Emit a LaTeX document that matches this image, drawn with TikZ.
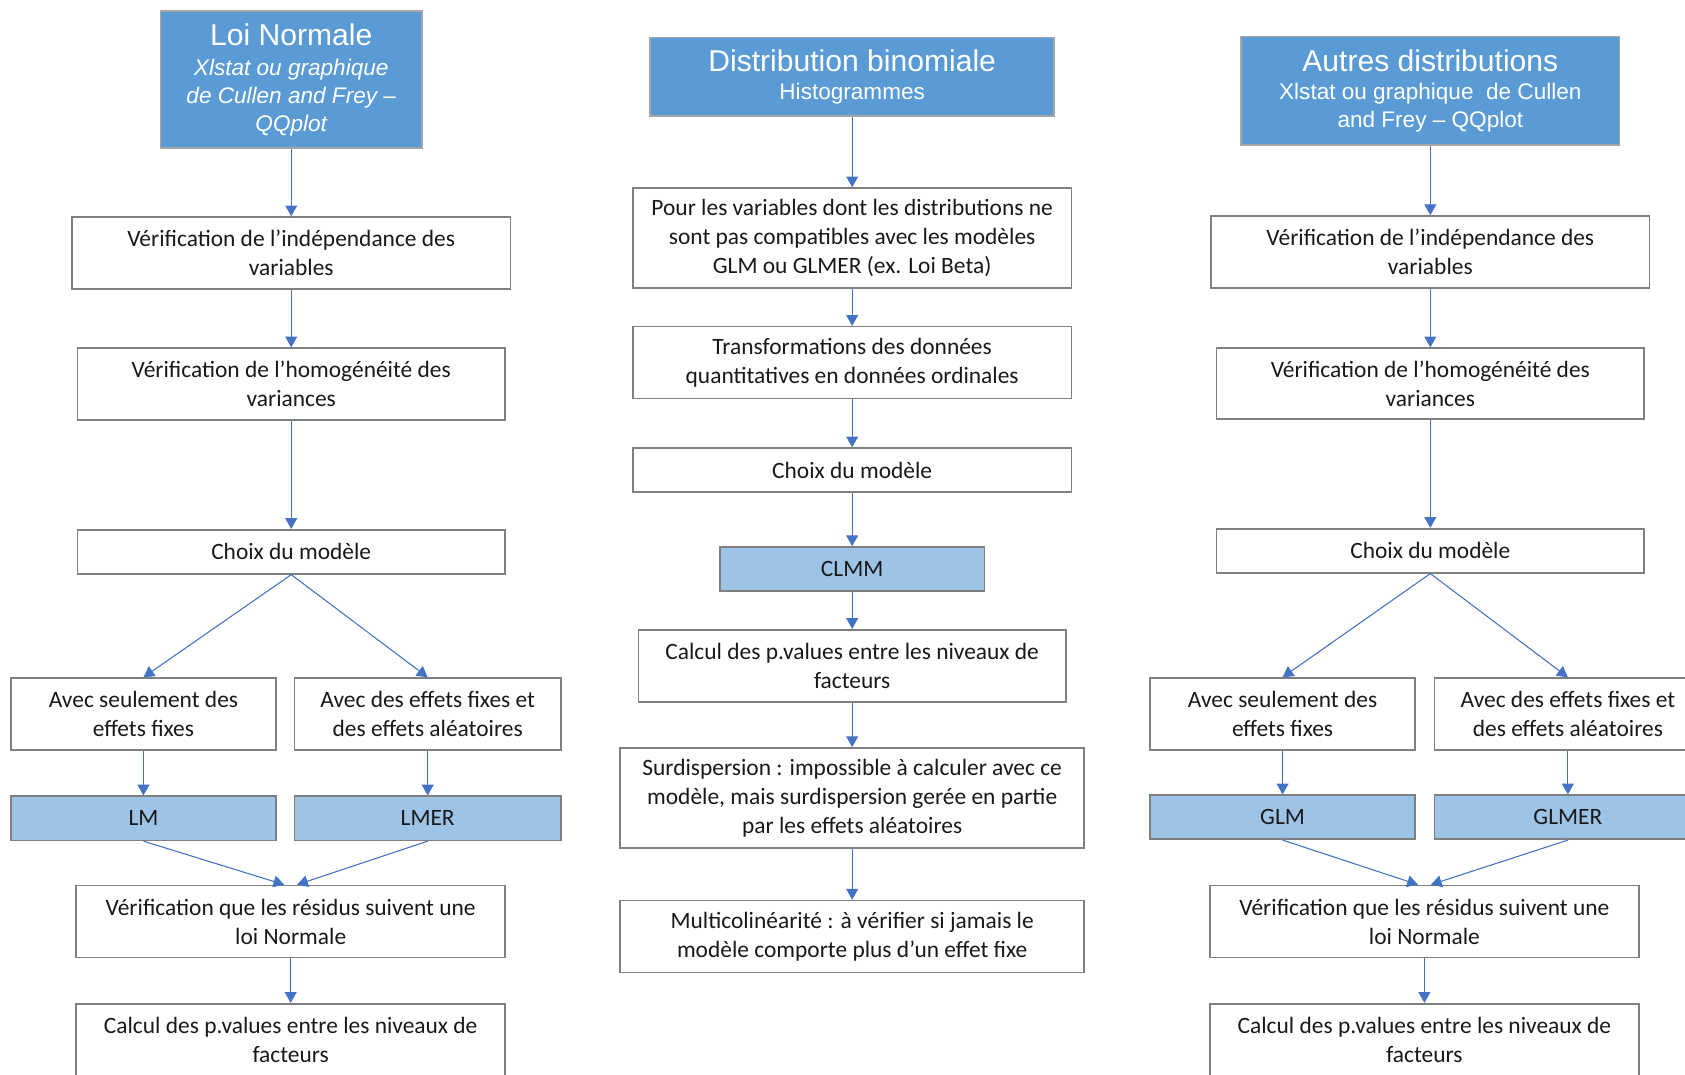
\documentclass[tikz,border=0pt]{standalone}
\usepackage{fontspec}
\setmainfont{Carlito}
\newfontfamily\arialfont{Liberation Sans}
\usetikzlibrary{arrows.meta}
\definecolor{titre}{HTML}{5B9BD5}
\definecolor{modele}{HTML}{9DC3E6}
\definecolor{fleche}{HTML}{4472C4}
\definecolor{bord}{HTML}{7F7F7F}

\begin{document}
\begin{tikzpicture}[x=1pt,y=-1pt,
	box/.style={draw=bord, line width=1.5pt, inner sep=0pt, align=center,
		text=black!90, font=\fontsize{21.8}{27}\selectfont},
	titlebox/.style={box, draw=black!35, fill=titre, text=white,
		font=\arialfont\fontsize{21}{26}\selectfont},
	modbox/.style={box, fill=modele, minimum height=41},
	fl/.style={draw=fleche, line width=1pt, -{Triangle[width=11pt,length=10pt]}}]
	\clip (0,0) rectangle (1568,1000);
	\fill[white] (0,0) rectangle (1568,1000);
	% loi normale
	\node[titlebox, minimum width=243, minimum height=128] (n0) at (271,74)
		{{\fontsize{28}{30}\selectfont Loi Normale}\\[2pt]\itshape Xlstat ou graphique\\\itshape de Cullen and Frey –\\\itshape QQplot};
	\node[box, minimum width=408, minimum height=67] (n1) at (271,235.5) {Vérification de l’indépendance des\\variables};
	\node[box, minimum width=398, minimum height=67] (n2) at (271,357.5) {Vérification de l’homogénéité des\\variances};
	\node[box, minimum width=398, minimum height=41] (n3) at (271,513.5) {Choix du modèle};
	\node[box, minimum width=247, minimum height=67] (n4) at (133.5,664.5) {Avec seulement des\\effets fixes};
	\node[box, minimum width=248, minimum height=67] (n5) at (398,664.5) {Avec des effets fixes et\\des effets aléatoires};
	\node[modbox, minimum width=247] (lm) at (133.5,761.5) {LM};
	\node[modbox, minimum width=248] (lmer) at (398,761.5) {LMER};
	\node[box, minimum width=399, minimum height=67] (n6) at (270.5,857.5) {Vérification que les résidus suivent une\\loi Normale};
	\node[box, minimum width=399, minimum height=67] (n7) at (270.5,967.5) {Calcul des p.values entre les niveaux de\\facteurs};
	\draw[fl] (n0) -- (n1);
	\draw[fl] (n1) -- (n2);
	\draw[fl] (n2) -- (n3);
	\draw[fl] (n3.south) -- (n4.north);
	\draw[fl] (n3.south) -- (n5.north);
	\draw[fl] (n4) -- (lm);
	\draw[fl] (n5) -- (lmer);
	\draw[fl] (lm.south) -- ([xshift=-6]n6.north);
	\draw[fl] (lmer.south) -- ([xshift=6]n6.north);
	\draw[fl] (n6) -- (n7);
	% binomiale
	\node[titlebox, minimum width=376, minimum height=73] (b0) at (793,71.5)
		{{\fontsize{28}{30}\selectfont Distribution binomiale}\\Histogrammes};
	\node[box, minimum width=408, minimum height=93] (b1) at (793,221.5) {Pour les variables dont les distributions ne\\sont pas compatibles avec les modèles\\GLM ou GLMER (ex. Loi Beta)};
	\node[box, minimum width=408, minimum height=67] (b2) at (793,337.5) {Transformations des données\\quantitatives en données ordinales};
	\node[box, minimum width=408, minimum height=41] (b3) at (793,437.5) {Choix du modèle};
	\node[modbox, minimum width=246] (clmm) at (793,529.5) {CLMM};
	\node[box, minimum width=398, minimum height=67] (b4) at (793,619.5) {Calcul des p.values entre les niveaux de\\facteurs};
	\node[box, minimum width=432, minimum height=93] (b5) at (793,742.5) {Surdispersion : impossible à calculer avec ce\\modèle, mais surdispersion gerée en partie\\par les effets aléatoires};
	\node[box, minimum width=432, minimum height=67] (b6) at (793,871.5) {Multicolinéarité : à vérifier si jamais le\\modèle comporte plus d’un effet fixe};
	\draw[fl] (b0) -- (b1);
	\draw[fl] (b1) -- (b2);
	\draw[fl] (b2) -- (b3);
	\draw[fl] (b3) -- (clmm);
	\draw[fl] (clmm) -- (b4);
	\draw[fl] (b4) -- (b5);
	\draw[fl] (b5) -- (b6);
	% autres distributions
	\node[titlebox, minimum width=352, minimum height=101] (a0) at (1331,84.5)
		{{\fontsize{28}{30}\selectfont Autres distributions}\\Xlstat ou graphique\ \ de Cullen\\and Frey – QQplot};
	\node[box, minimum width=408, minimum height=67] (a1) at (1331,234.5) {Vérification de l’indépendance des\\variables};
	\node[box, minimum width=398, minimum height=66] (a2) at (1331,357) {Vérification de l’homogénéité des\\variances};
	\node[box, minimum width=398, minimum height=41] (a3) at (1331,512.5) {Choix du modèle};
	\node[box, minimum width=247, minimum height=67] (a4) at (1193.5,664.5) {Avec seulement des\\effets fixes};
	\node[box, minimum width=248, minimum height=67] (a5) at (1459,664.5) {Avec des effets fixes et\\des effets aléatoires};
	\node[modbox, minimum width=247] (glm) at (1193.5,760.5) {GLM};
	\node[modbox, minimum width=248] (glmer) at (1459,760.5) {GLMER};
	\node[box, minimum width=399, minimum height=67] (a6) at (1325.5,857.5) {Vérification que les résidus suivent une\\loi Normale};
	\node[box, minimum width=399, minimum height=67] (a7) at (1325.5,967.5) {Calcul des p.values entre les niveaux de\\facteurs};
	\draw[fl] (a0) -- (a1);
	\draw[fl] (a1) -- (a2);
	\draw[fl] (a2) -- (a3);
	\draw[fl] (a3.south) -- (a4.north);
	\draw[fl] (a3.south) -- (a5.north);
	\draw[fl] (a4) -- (glm);
	\draw[fl] (a5) -- (glmer);
	\draw[fl] (glm.south) -- ([xshift=-6]a6.north);
	\draw[fl] (glmer.south) -- ([xshift=6]a6.north);
	\draw[fl] (a6) -- (a7);
\end{tikzpicture}
\end{document}
